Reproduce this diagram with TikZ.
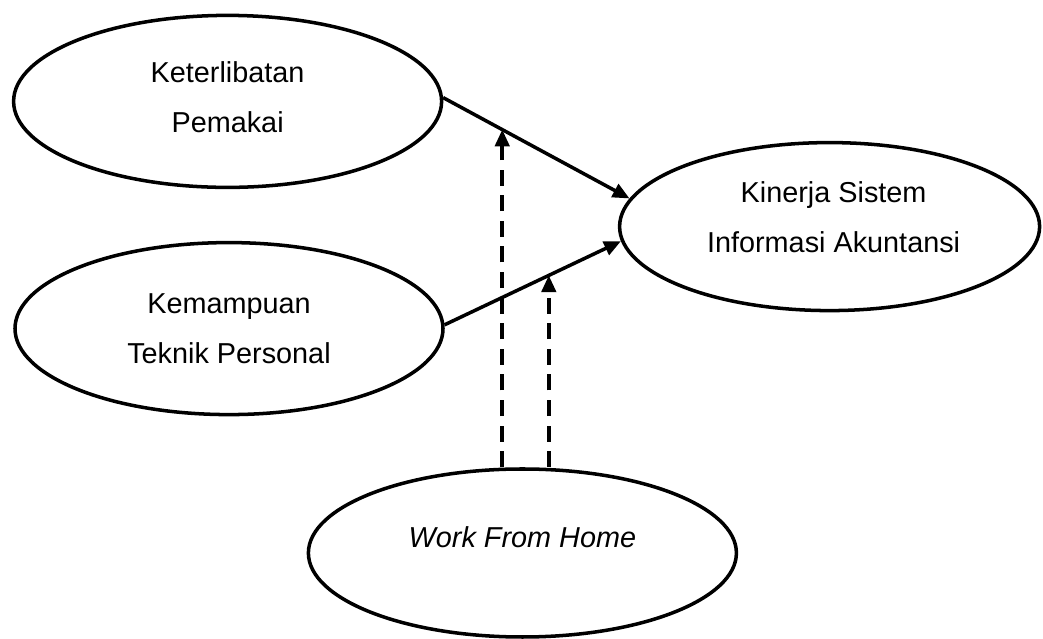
\documentclass[tikz,border=0pt]{standalone}
\usepackage{fontspec}
\setmainfont{Liberation Sans}
\usetikzlibrary{arrows.meta, shapes.geometric}

\begin{document}
\begin{tikzpicture}[>={Triangle[length=4.2mm, width=3.6mm]}, line width=2.5pt,
  font=\fontsize{20.5}{35.5}\selectfont,
  var/.style={draw, ellipse, minimum width=10.7cm, minimum height=4.3cm, inner sep=0pt},
  txt/.style={align=center, inner sep=0pt},
  mod/.style={->, dash pattern=on 4mm off 2.4mm}]
  \useasboundingbox (0,0) rectangle (26.075,15.975);

  % Variables
  \node[var] (kp) at (5.69,13.44) {};
  \node[var] (ktp) at (5.725,7.76) {};
  \node[var, minimum width=10.5cm, minimum height=4.2cm] (kin) at (20.74,10.31) {};
  \node[var, minimum height=4.2cm] (wfh) at (13.06,2.15) {};

  % Labels
  \node[txt] (kp-t) at ([yshift=1.1mm]kp.center) {Keterlibatan\\Pemakai};
  \node[txt] (ktp-t) at (ktp.center) {Kemampuan\\Teknik Personal};
  \node[txt] (kin-t) at ([xshift=1mm, yshift=2.3mm]kin.center) {Kinerja Sistem\\Informasi Akuntansi};
  \node[txt] (wfh-t) at ([yshift=4mm]wfh.center) {\itshape Work From Home};

  % Direct effects
  \draw[->] (kp.1) -- coordinate[pos=0.317] (m1) (kin.172);
  \draw[->] (ktp.1) -- coordinate[pos=0.591] (m2) (kin.184);

  % Moderation
  \draw[mod] (wfh.north -| m1) -- (m1);
  \draw[mod] (wfh.north -| m2) -- (m2);
\end{tikzpicture}
\end{document}
